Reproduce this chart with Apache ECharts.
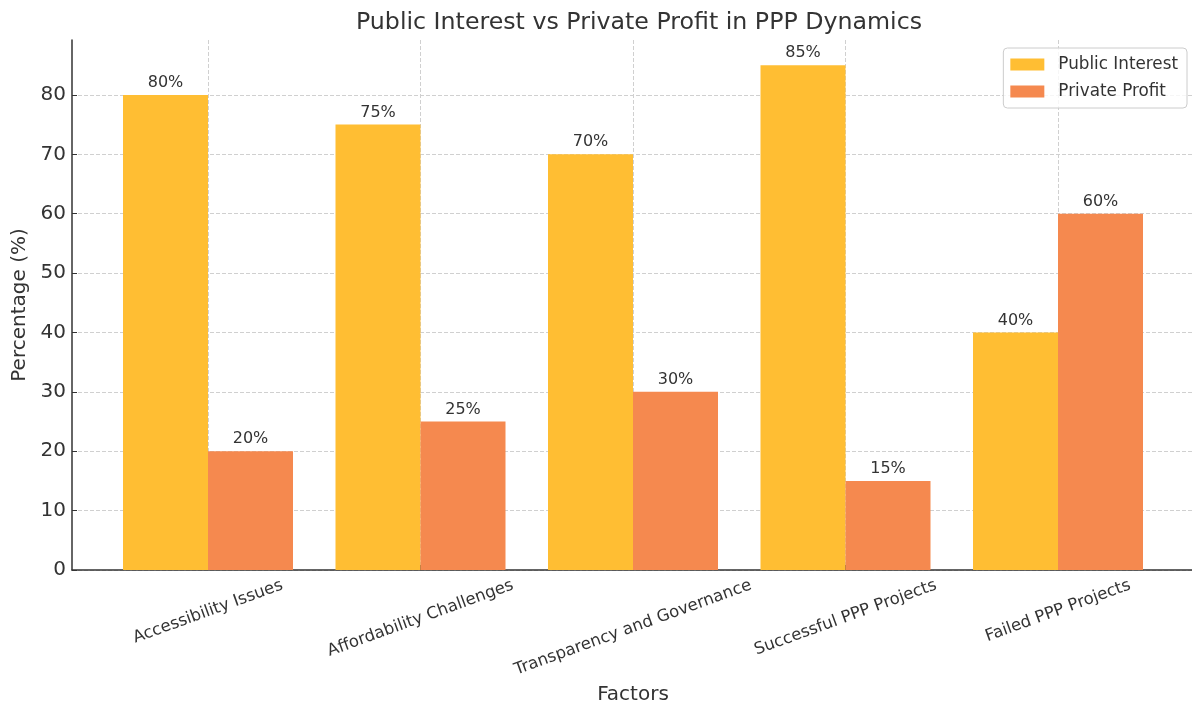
<!DOCTYPE html>
<html>
<head>
<meta charset="utf-8">
<script src="https://cdn.jsdelivr.net/npm/echarts@6/dist/echarts.min.js"></script>
<style>html,body{margin:0;padding:0;background:#fff}#c{width:1192px;height:706px}</style>
</head>
<body>
<div id="c"></div>
<script>
const categories = ['Accessibility Issues', 'Affordability Challenges', 'Transparency and Governance', 'Successful PPP Projects', 'Failed PPP Projects'];
const publicInterest = [80, 75, 70, 85, 40];
const privateProfit = [20, 25, 30, 15, 60];
const yTicks = [0, 10, 20, 30, 40, 50, 60, 70, 80];
const seriesNames = ['Public Interest', 'Private Profit'];

const idx = categories.map((c, i) => i);
const font = 'DejaVu Sans';
const labelSize = 16.5;
const rot = 20 * Math.PI / 180;
// matplotlib-style rotated label: bounding box centered under tick, top at fixed pad
const ctx = document.createElement('canvas').getContext('2d');
ctx.font = labelSize + 'px "' + font + '"';
const rich = {};
categories.forEach((c, i) => {
  const L = ctx.measureText(c).width;
  const h = labelSize * 1.0;
  const d = 7 + (L * Math.sin(rot) + h * Math.cos(rot)) / 2;
  const t = 2 * d * Math.cos(rot), r = 2 * d * Math.sin(rot);
  rich['c' + i] = {fontFamily: font, fontSize: labelSize, color: '#333', padding: [t, r, 0, 0],
    align: 'center', verticalAlign: 'middle'};
});

const chart = echarts.init(document.getElementById('c'), null, {renderer: 'canvas'});
const lbl = {show: true, position: 'top', distance: 4, fontFamily: font, fontSize: 16, color: '#333',
  formatter: p => p.value[1] + '%'};
chart.setOption({
  animation: false,
  textStyle: {fontFamily: font},
  title: {text: 'Public Interest vs Private Profit in PPP Dynamics', left: 634, top: 6, textAlign: 'center',
    textStyle: {fontFamily: font, fontSize: 23.7, fontWeight: 'normal', color: '#333'}},
  legend: {orient: 'vertical', right: 5, top: 48, itemWidth: 34, itemHeight: 12, itemGap: 10, icon: 'rect',
    padding: [8, 9, 8, 7], borderColor: '#ccc', borderWidth: 1, borderRadius: 4, backgroundColor: 'rgba(255,255,255,0.8)',
    textStyle: {fontFamily: font, fontSize: 16.8, color: '#333', padding: [0, 0, 0, 9]}, data: seriesNames},
  grid: {left: 72, top: 40, width: 1122, height: 530, containLabel: false, outerBoundsMode: 'none'},
  xAxis: {type: 'value', min: -0.64, max: 4.64,
    name: 'Factors', nameLocation: 'middle', nameGap: 111,
    nameTextStyle: {fontFamily: font, fontSize: 20, color: '#333'},
    axisLine: {show: true, onZero: false, lineStyle: {color: '#333', width: 1.5}},
    axisTick: {show: true, inside: true, length: 5, customValues: idx, lineStyle: {color: '#333'}},
    axisLabel: {customValues: idx, rotate: 20, margin: 0, align: 'center', verticalAlign: 'middle',
      fontFamily: font, fontSize: labelSize, color: '#333', hideOverlap: false,
      formatter: v => { const i = Math.round(v); return '{c' + i + '|' + categories[i] + '}'; }, rich: rich},
    splitLine: {show: true, lineStyle: {type: 'dashed', color: '#d0d0d0', width: 1}}},
  yAxis: {type: 'value', min: 0, max: 89.25,
    name: 'Percentage (%)', nameLocation: 'middle', nameGap: 40,
    nameTextStyle: {fontFamily: font, fontSize: 20, color: '#333'},
    axisLine: {show: true, onZero: false, lineStyle: {color: '#333', width: 1.5}},
    axisTick: {show: true, inside: true, length: 5, customValues: yTicks, lineStyle: {color: '#333'}},
    axisLabel: {customValues: yTicks, margin: 6, fontFamily: font, fontSize: 20, color: '#333'},
    splitLine: {show: true, lineStyle: {type: 'dashed', color: '#d0d0d0', width: 1}}},
  series: [
    {name: seriesNames[0], type: 'bar', barWidth: '40%', barGap: '0%', itemStyle: {color: '#FFBE33'},
      label: lbl, data: idx.map(i => [i, publicInterest[i]])},
    {name: seriesNames[1], type: 'bar', barWidth: '40%', barGap: '0%', itemStyle: {color: '#F5894F'},
      label: lbl, data: idx.map(i => [i, privateProfit[i]])}
  ]
});
</script>
</body>
</html>
